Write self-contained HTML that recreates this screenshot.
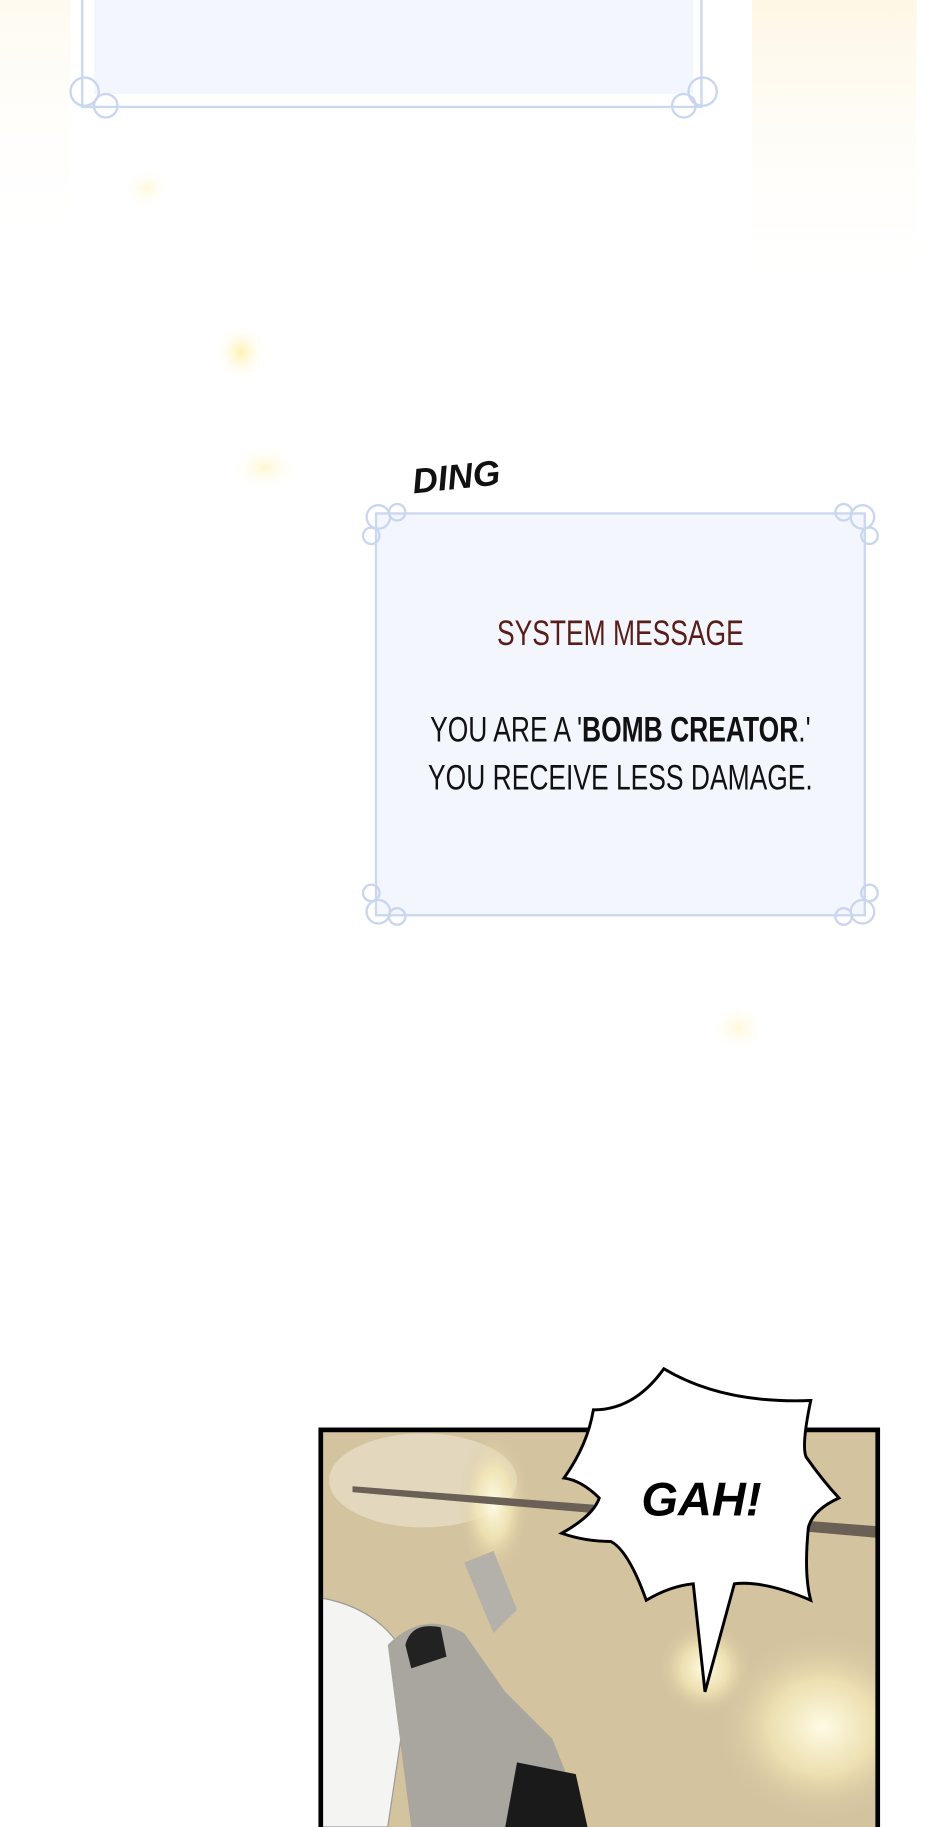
<!DOCTYPE html>
<html><head><meta charset="utf-8"><style>
html,body{margin:0;padding:0;background:#fff;}
svg{display:block;}
</style></head><body>
<svg width="940" height="1827" viewBox="0 0 800 1555" preserveAspectRatio="none" xmlns="http://www.w3.org/2000/svg">
<defs>
<radialGradient id="glow" cx="50%" cy="50%" r="50%"><stop offset="0" stop-color="#fff1b0"/><stop offset="1" stop-color="#fff" stop-opacity="0"/></radialGradient>
<linearGradient id="ray" x1="0" y1="0" x2="0" y2="1"><stop offset="0" stop-color="#fbf1d2"/><stop offset="1" stop-color="#fff" stop-opacity="0"/></linearGradient>
<linearGradient id="rayx" x1="0" y1="0" x2="1" y2="0"><stop offset="0" stop-color="#fff" stop-opacity="0"/><stop offset="0.5" stop-color="#fff" stop-opacity="1"/><stop offset="1" stop-color="#fff" stop-opacity="0"/></linearGradient>
<radialGradient id="pglow" cx="50%" cy="50%" r="50%"><stop offset="0" stop-color="#fffbe6"/><stop offset="0.5" stop-color="#f3e7b6" stop-opacity="0.8"/><stop offset="1" stop-color="#d8c8a2" stop-opacity="0"/></radialGradient>
<clipPath id="pc"><rect x="273" y="1217" width="474" height="340"/></clipPath>
</defs>
<rect width="800" height="1555" fill="#fff"/>
<rect x="640" y="0" width="140" height="260" fill="url(#ray)" opacity="0.6"/>
<rect x="0" y="0" width="60" height="220" fill="url(#ray)" opacity="0.35"/>
<ellipse cx="205" cy="300" rx="22" ry="26" fill="url(#glow)"/>
<ellipse cx="225" cy="398" rx="30" ry="20" fill="url(#glow)" opacity="0.6"/>
<ellipse cx="125" cy="160" rx="20" ry="18" fill="url(#glow)" opacity="0.5"/>
<ellipse cx="628" cy="875" rx="25" ry="22" fill="url(#glow)" opacity="0.5"/>
<rect x="80" y="0" width="510" height="80" fill="#f3f7fd"/>
<rect x="70" y="-5" width="527" height="96" fill="none" stroke="#cbd8ef" stroke-width="2"/>
<g fill="none" stroke="#c9d6ee" stroke-width="2">
<circle cx="72" cy="78" r="12"/><circle cx="90" cy="90" r="10"/><circle cx="598" cy="78" r="12"/><circle cx="582" cy="90" r="10"/>
</g>
<rect x="320" y="437" width="416" height="342" fill="#f3f7fd"/>
<rect x="320" y="437" width="416" height="342" fill="none" stroke="#cbd8ef" stroke-width="2"/>
<g fill="none" stroke="#c9d6ee" stroke-width="2">
<circle cx="322" cy="440" r="10"/><circle cx="338" cy="436" r="7"/><circle cx="316" cy="456" r="7"/>
<circle cx="734" cy="440" r="10"/><circle cx="718" cy="436" r="7"/><circle cx="740" cy="456" r="7"/>
<circle cx="322" cy="776" r="10"/><circle cx="338" cy="780" r="7"/><circle cx="316" cy="760" r="7"/>
<circle cx="734" cy="776" r="10"/><circle cx="718" cy="780" r="7"/><circle cx="740" cy="760" r="7"/>
</g>
<text x="352" y="420" font-family="Liberation Sans, sans-serif" font-weight="bold" font-style="italic" font-size="30" fill="#111" transform="rotate(-6 352 420)">DING</text>
<g font-family="Liberation Sans Narrow, Liberation Sans, sans-serif" text-anchor="middle">
<text x="528" y="549" font-size="30" fill="#5a1e18" transform="translate(528 0) scale(0.75 1) translate(-528 0)">SYSTEM MESSAGE</text>
<text x="528" y="631" font-size="30" fill="#111" transform="translate(528 0) scale(0.75 1) translate(-528 0)">YOU ARE A '<tspan font-weight="bold">BOMB CREATOR</tspan>.'</text>
<text x="528" y="672" font-size="30" fill="#111" transform="translate(528 0) scale(0.75 1) translate(-528 0)">YOU RECEIVE LESS DAMAGE.</text>
</g>
<g clip-path="url(#pc)">
<rect x="273" y="1217" width="474" height="340" fill="#d4c39f"/>
<ellipse cx="360" cy="1260" rx="80" ry="40" fill="#e6dcc4" opacity="0.8"/>
<ellipse cx="420" cy="1280" rx="30" ry="60" fill="url(#pglow)"/>
<ellipse cx="700" cy="1470" rx="90" ry="80" fill="url(#pglow)"/>
<ellipse cx="600" cy="1420" rx="40" ry="40" fill="url(#pglow)"/>
<path d="M300 1265 L760 1300 L760 1310 L300 1270Z" fill="#6a6056"/>
<path d="M273 1360 Q330 1370 350 1420 L330 1555 L273 1555Z" fill="#f4f4f2" stroke="#999" stroke-width="1"/>
<path d="M330 1400 Q360 1370 395 1390 L430 1440 L470 1480 L500 1555 L350 1555 Z" fill="#a9a6a0"/>
<path d="M345 1400 Q350 1380 375 1385 L380 1410 L350 1420Z" fill="#222"/>
<path d="M395 1330 L420 1320 L440 1370 L420 1390 Z" fill="#b4b1ab"/>
<path d="M440 1500 L490 1510 L500 1555 L430 1555Z" fill="#1a1a1a"/>
</g>
<rect x="273" y="1217" width="474" height="340" fill="none" stroke="#000" stroke-width="4"/>
<path d="M565 1165 Q615 1195 690 1192 Q682 1230 686 1240 Q700 1260 714 1275 Q692 1285 688 1300 Q684 1340 690 1362 Q650 1345 625 1348 L600 1440 L590 1348 Q570 1350 550 1362 Q535 1320 520 1312 Q498 1312 478 1305 Q505 1290 510 1275 Q495 1260 480 1258 Q500 1230 505 1200 Q540 1200 565 1165Z" fill="#fff" stroke="#000" stroke-width="2.5" stroke-linejoin="miter"/>
<text x="597" y="1290" text-anchor="middle" font-family="Liberation Sans, sans-serif" font-weight="bold" font-style="italic" font-size="40" fill="#000">GAH!</text>
</svg>
</body></html>
